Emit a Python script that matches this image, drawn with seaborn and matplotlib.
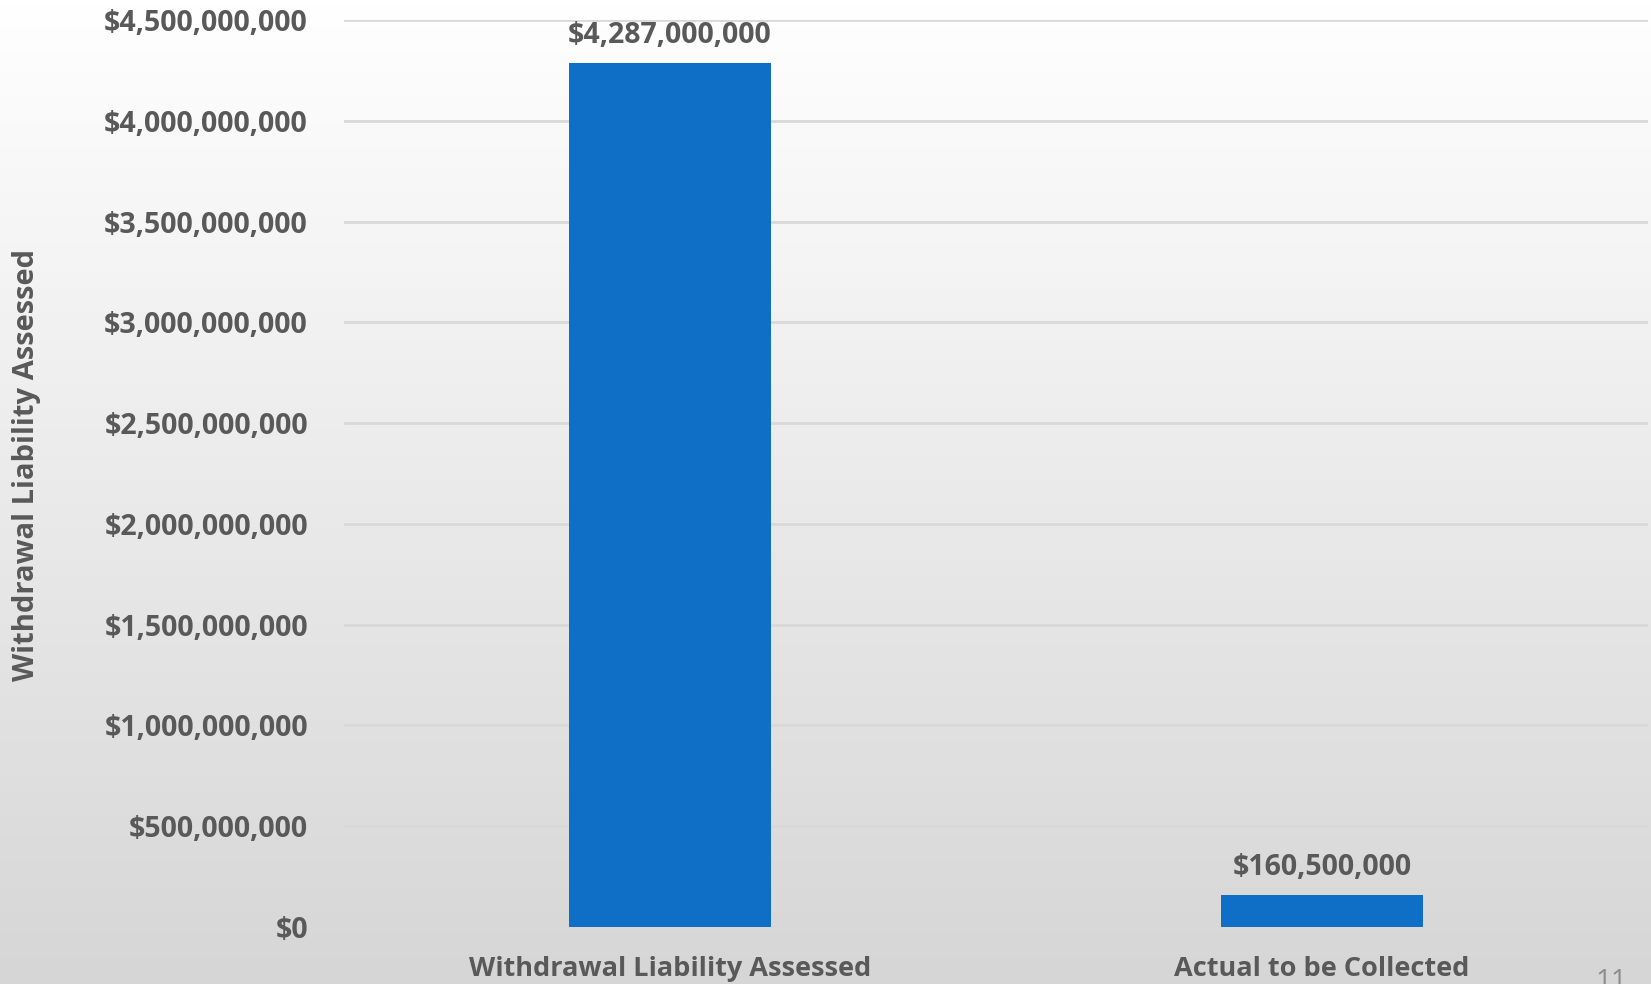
import numpy as np
import pandas as pd
import matplotlib
matplotlib.use("Agg")
import matplotlib.pyplot as plt
import seaborn as sns
from matplotlib.ticker import FuncFormatter, MultipleLocator
from matplotlib.colors import LinearSegmentedColormap

categories = ["Withdrawal Liability Assessed", "Actual to be Collected"]
values = [4287000000, 160500000]
bar_labels = ["$4,287,000,000", "$160,500,000"]

sns.set_theme(style="white")
plt.rcParams['font.family'] = ['Open Sans', 'DejaVu Sans']

W, H = 1651, 984
fig = plt.figure(figsize=(W / 100, H / 100), dpi=100)

# gradient background
bg = fig.add_axes([0, 0, 1, 1], zorder=0)
grad = np.linspace(0, 1, 256).reshape(-1, 1)
cmap = LinearSegmentedColormap.from_list("bg", ["#ffffff", "#d6d6d6"])
bg.imshow(grad, aspect="auto", cmap=cmap, extent=[0, 1, 0, 1], origin="upper")
bg.set_axis_off()

left, right = 344 / W, 1648 / W
bottom, top = 1 - 927 / H, 1 - 20 / H
ax = fig.add_axes([left, bottom, right - left, top - bottom], zorder=1)
ax.patch.set_alpha(0)

df = pd.DataFrame({"cat": categories, "val": values})
sns.barplot(data=df, x="cat", y="val", color="#0f6fc6", width=0.31, ax=ax,
            saturation=1, linewidth=0, zorder=3)

ax.set_ylim(0, 4500000000)
ax.set_xlim(-0.5, 1.5)
ax.yaxis.set_major_locator(MultipleLocator(500000000))
ax.yaxis.set_major_formatter(FuncFormatter(lambda v, p: "${:,.0f}".format(v)))
ax.grid(axis="y", color="#d9d9d9", linewidth=2, zorder=0)
ax.set_axisbelow(True)
for s in ax.spines.values():
    s.set_visible(False)

txt = "#595959"
ax.tick_params(axis="y", length=0, pad=26, labelsize=20.5, labelcolor=txt)
ax.tick_params(axis="x", length=0, pad=21, labelsize=19.5, labelcolor=txt)
for lab in ax.get_yticklabels() + ax.get_xticklabels():
    lab.set_fontweight("bold")

ax.set_xlabel("")
ax.set_ylabel("Withdrawal Liability Assessed", fontsize=21, fontweight="bold",
              color=txt)
ax.yaxis.set_label_coords(-(344 - 41) / (1648 - 344), 0.509)

for i, (v, lab) in enumerate(zip(values, bar_labels)):
    ax.annotate(lab, (i, v), xytext=(0, 9), textcoords="offset points",
                ha="center", va="bottom", fontsize=20.5, fontweight="bold", color=txt)

fig.text(1611 / W, -0.012, "11", fontsize=20, color="#8c8c8c", ha="center", va="bottom")

fig.savefig("out.png", dpi=100)
